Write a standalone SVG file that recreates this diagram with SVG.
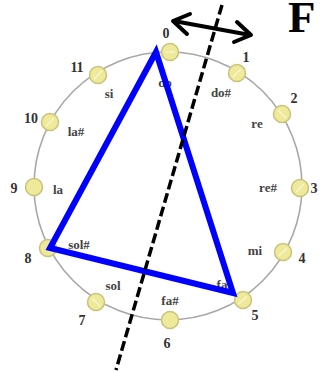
<svg xmlns="http://www.w3.org/2000/svg" width="324" height="371" viewBox="0 0 324 371">
<defs>
<style>
.ring{fill:none;stroke:#a8a8a8;stroke-width:1.6}
.nd{fill:#eeea9a;stroke:#c8c27a;stroke-width:1.5}
.sl{stroke:#f8f6d8;stroke-width:1.2}
.num{font-family:"Liberation Serif",serif;font-weight:bold;font-size:14px;fill:#333;text-anchor:middle;dominant-baseline:central}
.nm{font-family:"Liberation Serif",serif;font-weight:bold;font-size:13px;fill:#444;text-anchor:middle;dominant-baseline:central}
.arr{fill:none;stroke:#000;stroke-width:4;stroke-linecap:round;stroke-linejoin:round}
</style>
</defs>
<rect width="324" height="371" fill="#fff"/>
<circle class="ring" cx="168" cy="186" r="134"/>
<g id="n0"><circle class="nd" cx="170" cy="52" r="8.5"/><line class="sl" x1="165" y1="52" x2="175" y2="52"/><text class="num" x="166" y="33">0</text><text class="nm" x="165" y="82">do</text></g>
<g id="n1"><circle class="nd" cx="237" cy="73" r="8.5"/><line class="sl" x1="233" y1="77" x2="241" y2="69"/><text class="num" x="246" y="57">1</text><text class="nm" x="221" y="92">do#</text></g>
<g id="n2"><circle class="nd" cx="282" cy="114" r="8.5"/><line class="sl" x1="278" y1="110" x2="286" y2="118"/><text class="num" x="294" y="98">2</text><text class="nm" x="257" y="123">re</text></g>
<g id="n3"><circle class="nd" cx="300" cy="188" r="8.5"/><line class="sl" x1="296" y1="192" x2="304" y2="184"/><text class="num" x="314" y="188">3</text><text class="nm" x="268" y="187">re#</text></g>
<g id="n4"><circle class="nd" cx="283" cy="252" r="8.5"/><line class="sl" x1="279" y1="256" x2="287" y2="248"/><text class="num" x="302" y="258">4</text><text class="nm" x="255" y="250">mi</text></g>
<g id="n5"><circle class="nd" cx="243" cy="300" r="8.5"/><line class="sl" x1="239" y1="304" x2="247" y2="296"/><text class="num" x="255" y="315">5</text><text class="nm" x="222" y="284">fa</text></g>
<g id="n6"><circle class="nd" cx="170" cy="320" r="8.5"/><text class="num" x="167" y="343">6</text><text class="nm" x="170" y="300">fa#</text></g>
<g id="n7"><circle class="nd" cx="96" cy="302" r="8.5"/><line class="sl" x1="92" y1="298" x2="100" y2="306"/><text class="num" x="82" y="320">7</text><text class="nm" x="113" y="285">sol</text></g>
<g id="n8"><circle class="nd" cx="48" cy="248" r="8.5"/><text class="num" x="28" y="258">8</text><text class="nm" x="79" y="244">sol#</text></g>
<g id="n9"><circle class="nd" cx="34" cy="187" r="8.5"/><text class="num" x="14" y="188">9</text><text class="nm" x="58" y="189">la</text></g>
<g id="n10"><circle class="nd" cx="50" cy="122" r="8.5"/><line class="sl" x1="46" y1="126" x2="54" y2="118"/><text class="num" x="31" y="118">10</text><text class="nm" x="76" y="131">la#</text></g>
<g id="n11"><circle class="nd" cx="98" cy="75" r="8.5"/><line class="sl" x1="94" y1="79" x2="102" y2="71"/><text class="num" x="77" y="67">11</text><text class="nm" x="109" y="93">si</text></g>
<g id="connectors">
<polygon points="156,52 50,248 233,293" fill="none" stroke="#0000ff" stroke-width="6" stroke-linejoin="miter"/>
<line x1="222" y1="5" x2="116" y2="370" stroke="#000" stroke-width="3.5" stroke-dasharray="10 4"/>
<line class="arr" x1="174" y1="21" x2="250" y2="35"/>
<path class="arr" d="M187,34 L173,21 L190,14"/>
<path class="arr" d="M237,22 L251,35 L234,42"/>
</g>
<text x="288" y="32" font-family="Liberation Serif,serif" font-weight="bold" font-size="45" fill="#000">F</text>
</svg>
